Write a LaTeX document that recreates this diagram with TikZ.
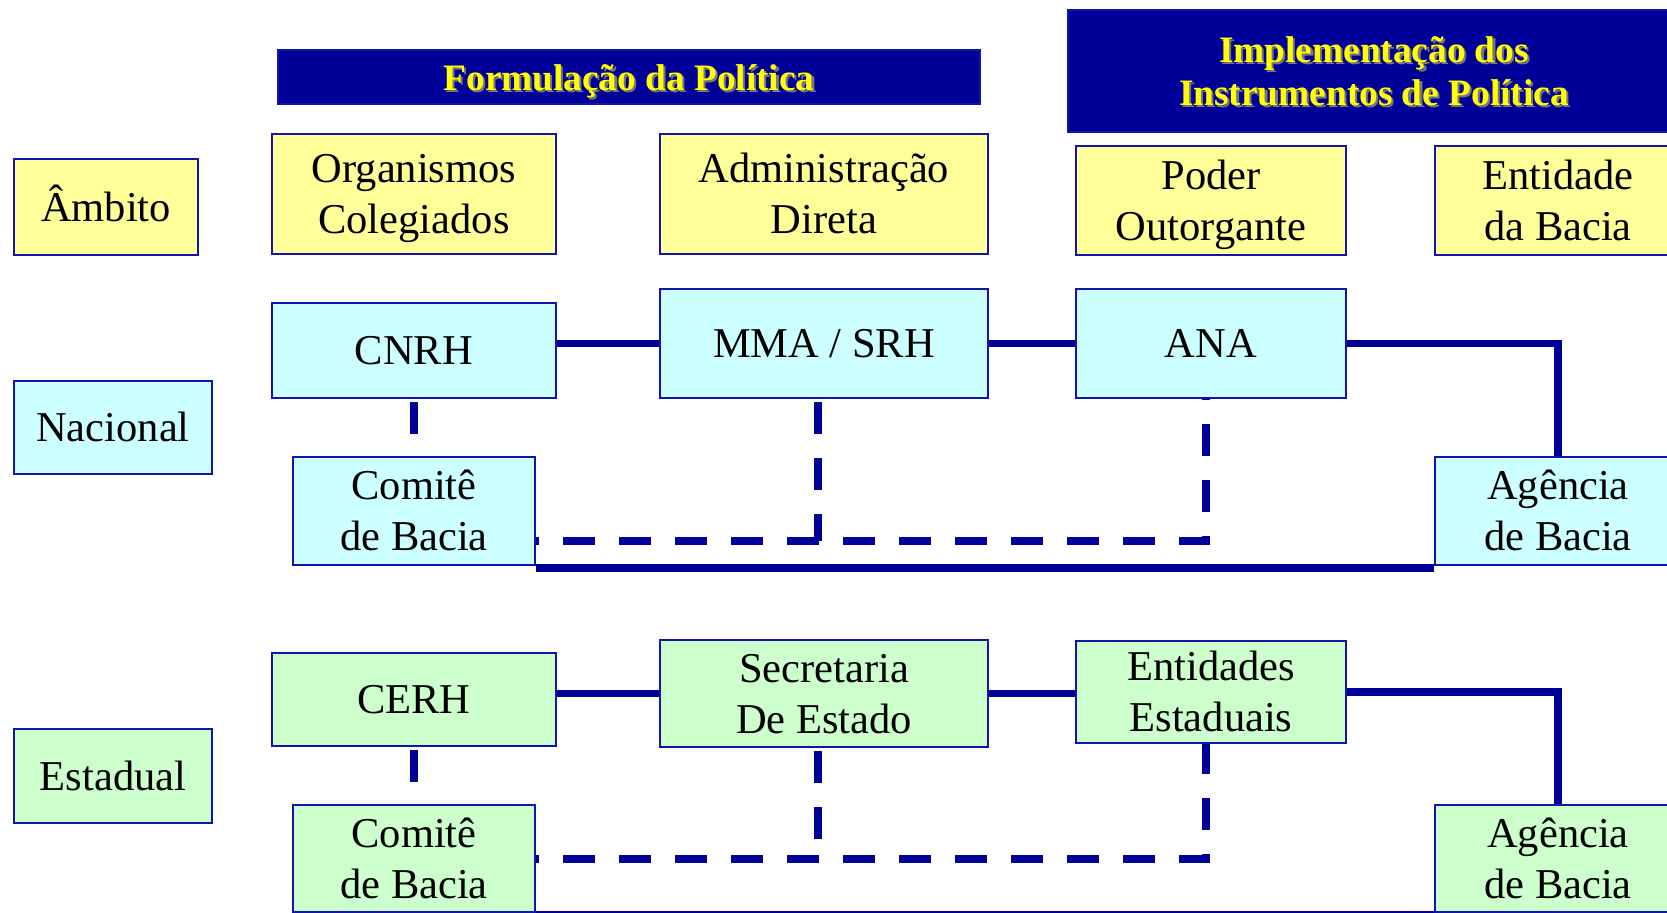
\documentclass[tikz,border=0pt]{standalone}
\usepackage{fontspec}
\setmainfont{Liberation Serif}
\definecolor{navy}{RGB}{0,0,153}
\definecolor{bord}{RGB}{20,20,170}
\definecolor{yelf}{RGB}{255,255,153}
\definecolor{cyaf}{RGB}{204,255,255}
\definecolor{grnf}{RGB}{204,255,204}
\definecolor{hdrtxt}{RGB}{255,255,0}
\definecolor{shd}{RGB}{120,120,120}
\newcommand\bodyfont{\fontsize{21.25pt}{25.5pt}\selectfont\lineskiplimit=-100pt}
\newcommand\hdrfnt{\fontsize{18.65pt}{21.75pt}\selectfont\bfseries}
\newcommand\st{\rule[-5.5pt]{0pt}{25pt}}
\newcommand\bx[7]{\node[#6, minimum width={(#4-#2)*0.5pt}, minimum height={(#5-#3)*0.5pt}] (#1) at ({(#2+#4)/2},{(#3+#5)/2}) {#7};}
\tikzset{
  box/.style={draw=bord, line width=0.8pt, inner sep=0pt, align=center, font=\bodyfont},
  yel/.style={box, fill=yelf},
  cya/.style={box, fill=cyaf},
  grn/.style={box, fill=grnf},
  hdr/.style={draw=bord, line width=0.6pt, fill=navy, inner sep=0pt},
  htxt/.style={text=hdrtxt, font=\hdrfnt, align=center, inner sep=0pt},
  hshd/.style={text=shd, font=\hdrfnt, align=center, inner sep=0pt},
  link/.style={draw=navy, line width=3.9pt},
  dlink/.style={draw=navy, line width=3.9pt, dash pattern=on 16pt off 12pt},
}
\begin{document}
\begin{tikzpicture}[x=0.5pt,y=-0.5pt]
\useasboundingbox (0,0) rectangle (1667,912);
\clip (0,0) rectangle (1667,912);
% headers
\bx{h1}{278}{50}{980}{104}{hdr}{}
\bx{h2}{1068}{10}{1680}{132}{hdr}{}
\node[hshd] (h1s) at ([xshift=1.1pt,yshift=-3.1pt]h1.center) {Formulação da Política};
\node[htxt] (h1t) at ([yshift=-2pt]h1.center) {Formulação da Política};
\node[hshd] (h2s) at ([xshift=1.1pt,yshift=-1.1pt]h2.center) {Implementação dos\\Instrumentos de Política};
\node[htxt] (h2t) at (h2.center) {Implementação dos\\Instrumentos de Política};
% row labels
\bx{amb}{14}{159}{198}{255}{yel}{\st Âmbito}
\bx{nac}{14}{381}{212}{474}{cya}{\st Nacional}
\bx{est}{14}{729}{212}{823}{grn}{\st Estadual}
% column heads
\bx{org}{272}{134}{556}{254}{yel}{\st Organismos\\\st Colegiados}
\bx{adm}{660}{134}{988}{254}{yel}{\st Administração\\\st Direta}
\bx{pod}{1076}{146}{1346}{255}{yel}{\st Poder\\\st Outorgante}
\bx{ent}{1435}{146}{1681}{255}{yel}{\st Entidade\\\st da Bacia}
% nacional
\bx{cnrh}{272}{303}{556}{398}{cya}{\st CNRH}
\bx{mma}{660}{289}{988}{398}{cya}{\st MMA / SRH}
\bx{ana}{1076}{289}{1346}{398}{cya}{\st ANA}
\bx{comn}{293}{457}{535}{565}{cya}{\st Comitê\\\st de Bacia}
\bx{agn}{1435}{457}{1681}{565}{cya}{\st Agência\\\st de Bacia}
% estadual
\bx{cerh}{272}{653}{556}{746}{grn}{\st CERH}
\bx{sec}{660}{640}{988}{747}{grn}{\st Secretaria\\\st De Estado}
\bx{ente}{1076}{641}{1346}{743}{grn}{\st Entidades\\\st Estaduais}
\bx{come}{293}{805}{535}{912}{grn}{\st Comitê\\\st de Bacia}
\bx{age}{1435}{805}{1681}{912}{grn}{\st Agência\\\st de Bacia}
% junction points
\coordinate (jn) at (1206,541);
\coordinate (mn) at (818,541);
\coordinate (je) at (1206,859);
\coordinate (me) at (818,859);
% nacional connectors
\draw[link] (cnrh.east |- mma.west) -- (mma.west);
\draw[link] (mma.east) -- (ana.west);
\draw[link] (ana.east) -| (agn.north);
\draw[link, dash pattern=on 16pt off 30pt, dash phase=-1.5pt] (cnrh.south) -- (comn.north);
\draw[dlink, dash phase=14.5pt] (comn.east |- jn) -- (jn) -- (jn |- ana.south);
\draw[dlink, dash phase=-1.5pt] (mn |- mma.south) -- (mn);
\draw[link] ([yshift=-1pt]comn.south east) -- ([yshift=-1pt]agn.south west);
% estadual connectors
\draw[link] (cerh.east |- sec.west) -- (sec.west);
\draw[link] (sec.east) -- (sec.east -| ente.west);
\draw[link] (ente.east) -| (age.north);
\draw[link, dash pattern=on 16pt off 30pt, dash phase=-1.5pt] (cerh.south) -- (come.north);
\draw[dlink, dash phase=14.5pt] (come.east |- je) -- (je) -- (je |- ente.south);
\draw[dlink, dash phase=-1.5pt] (me |- sec.south) -- (me);
\draw[link] ([yshift=-1pt]come.south east) -- ([yshift=-1pt]age.south west);
\end{tikzpicture}
\end{document}
